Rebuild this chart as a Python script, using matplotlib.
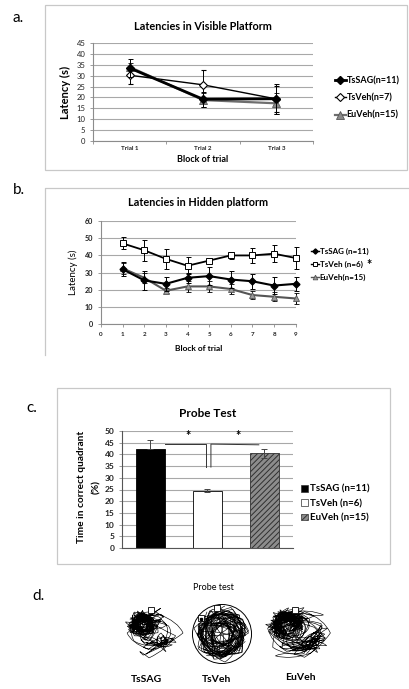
import matplotlib
matplotlib.use('Agg')
import matplotlib.pyplot as plt
from matplotlib.path import Path
from matplotlib.patches import PathPatch, Rectangle, Circle
from matplotlib.lines import Line2D
from matplotlib.transforms import Affine2D

plt.rcParams['font.family'] = ['Lato', 'DejaVu Sans']
plt.rcParams['hatch.linewidth'] = 0.7

# ---------------- data ----------------
# panel a
a_trials = ['Trial 1', 'Trial 2', 'Trial 3']
a_tssag = [33.5, 19.2, 19.4]
a_tssag_err = [4.0, 3.5, 7.0]
a_tsveh = [30.2, 25.8, 19.3]
a_tsveh_err = [3.9, 6.8, 6.0]
a_euveh = [34.0, 18.8, 17.3]
a_euveh_err = [2.0, 3.3, 4.8]
a_labels = ['TsSAG(n=11)', 'TsVeh(n=7)', 'EuVeh(n=15)']

# panel b
b_blocks = [1, 2, 3, 4, 5, 6, 7, 8, 9]
b_tssag = [32, 25.5, 23.5, 27, 28, 26, 25, 22.5, 23.5]
b_tssag_err = [4, 5.5, 4, 3, 5, 5, 4.5, 5, 4]
b_tsveh = [47, 43, 38, 34, 37, 40, 40, 41, 38.5]
b_tsveh_err = [3.5, 6, 6, 5, 1.5, 2, 4.5, 5, 6.5]
b_euveh = [32.5, 27, 19.5, 22, 22, 20.5, 17, 16, 15]
b_euveh_err = [3, 3, 1.5, 3, 3, 3, 2.5, 2.5, 3]
b_labels = ['TsSAG (n=11)', 'TsVeh (n=6)', 'EuVeh(n=15)']

# panel c
c_groups = ['TsSAG (n=11)', 'TsVeh (n=6)', 'EuVeh (n=15)']
c_values = [42.3, 24.5, 40.5]
c_err_low = [0, 0.7, 2.0]
c_err_high = [4.0, 0.7, 2.0]
c_sig_y = 44.4
c_sig_low = 34.6
c_star_y = 47.9

# panel d (swim tracks, unit-circle coordinates)
d_names = ['TsSAG', 'TsVeh', 'EuVeh']
tssag_x = [-0.3, 0.1, -0.6, -0.2, 0.3, -0.7, -0.4, 0.0, -0.8, -0.1, 0.4, -0.5, -0.9, -0.2, 0.2, 0.9, 1.05, 0.6,
           -0.3, -0.6, -0.1, 0.5, 0.8, 0.2, -0.4, -0.7, -0.3, 0.1, -0.5, -0.2, 0.3, 0.7, 0.4, -0.1, -0.6, -0.85,
           -0.4, 0.0, 0.5, 0.2, -0.3, -0.7, -0.5, -0.1, 0.3, -0.6, -0.2, 0.1, -0.75, -0.35, 0.15]
tssag_y = [0.5, 0.8, 0.3, 0.6, 0.4, 0.7, 0.1, 0.5, 0.2, 0.9, 0.6, -0.1, 0.4, 0.3, 0.7, 0.4, 0.0, -0.4,
           -0.8, -0.5, -0.9, -0.6, -0.1, 0.2, 0.6, 0.5, 0.0, 0.3, 0.8, 0.2, 0.5, 0.2, -0.3, -0.6, -0.3, 0.1,
           0.4, 0.7, 0.3, 0.0, 0.4, 0.6, 0.2, 0.6, 0.9, 0.35, 0.15, 0.55, 0.5, 0.75, 0.3]
tsveh_x = [-0.2, 0.5, 0.8, 0.3, -0.4, -0.9, -0.6, 0.1, 0.7, 0.95, 0.4, -0.3, -0.8, -0.5, 0.2, 0.6, 0.0, -0.7,
           -0.95, -0.4, 0.3, 0.85, 0.5, -0.1, -0.6, -0.2, 0.4, 0.75, 0.1, -0.5, -0.85, -0.3, 0.2, 0.6, 0.9, 0.3,
           -0.2, -0.7, -0.4, 0.0, 0.5, 0.2, -0.3, -0.6, 0.1]
tsveh_y = [0.9, 0.7, 0.2, -0.3, -0.7, -0.2, 0.5, 0.8, 0.5, -0.1, -0.6, -0.9, -0.5, 0.1, 0.4, -0.2, -0.7, -0.4,
           0.2, 0.7, 0.9, 0.3, -0.4, -0.8, -0.6, 0.0, 0.3, -0.5, -0.95, -0.7, 0.0, 0.6, 0.5, 0.8, 0.1, -0.3,
           -0.5, 0.3, 0.8, 0.4, -0.1, -0.5, -0.2, 0.6, 0.95]
euveh_x = [-0.4, 0.1, -0.7, -0.3, 0.3, -0.8, -0.5, 0.0, -0.9, -0.2, 0.5, -0.6, -1.0, -0.3, 0.2, 0.8, 1.0, 0.7,
           0.2, -0.3, -0.7, -0.2, 0.4, 0.9, 0.5, -0.4, -0.8, -0.5, 0.0, -0.6, -0.3, 0.3, 0.75, 0.4, -0.1, -0.65,
           -0.9, -0.45, 0.05, 0.55, 0.2, -0.35, -0.75, -0.5, -0.1, 0.35, -0.55, -0.2, 0.15, -0.7, -0.4]
euveh_y = [0.6, 0.85, 0.4, 0.7, 0.5, 0.6, 0.2, 0.45, 0.1, 0.9, 0.6, 0.0, 0.3, 0.35, 0.75, 0.5, 0.0, -0.5,
           -0.85, -0.6, -0.8, -0.95, -0.7, -0.2, 0.2, 0.55, 0.45, 0.05, 0.3, 0.75, 0.25, 0.55, 0.2, -0.3, -0.55, -0.3,
           0.05, 0.4, 0.65, 0.3, 0.0, 0.4, 0.6, 0.15, 0.55, 0.8, 0.5, 0.25, 0.6, 0.35, 0.7]
d_tracks_x = [tssag_x, tsveh_x, euveh_x]
d_tracks_y = [tssag_y, tsveh_y, euveh_y]
platform_x = [[-0.03], [-0.16, -0.7], [-0.1]]
platform_y = [[0.83], [0.87, 0.55], [0.8]]
# overlaid passes of each track: (rotation deg, scale, shift x, shift y)
d_passes = [
    [(0, 1.0, 0, 0), (180, 0.85, 0.05, 0.0), (25, 0.6, -0.25, 0.25), (-30, 0.55, -0.3, 0.3),
     (60, 0.5, -0.35, 0.3), (-70, 0.5, -0.3, 0.2), (120, 0.45, -0.35, 0.35), (200, 0.5, -0.3, 0.3)],
    [(0, 1.0, 0, 0), (40, 0.95, 0, 0), (-50, 0.9, 0, 0), (90, 0.85, 0, 0), (150, 0.95, 0, 0),
     (-120, 0.9, 0, 0)],
    [(0, 1.0, 0, 0), (170, 0.95, 0.0, 0.0), (-150, 0.9, 0.0, -0.05), (20, 0.65, -0.25, 0.25),
     (-25, 0.6, -0.3, 0.3), (70, 0.55, -0.35, 0.3), (-60, 0.55, -0.3, 0.2), (110, 0.5, -0.35, 0.3),
     (220, 0.5, -0.3, 0.35)],
]

# ---------------- figure ----------------
W, H = 410, 689
fig = plt.figure(figsize=(W / 100, H / 100), dpi=100)


def fx(px):
    return px / W


def fy(py):
    return 1 - py / H


def rect(l, t, r, b):
    return [fx(l), fy(b), fx(r) - fx(l), fy(t) - fy(b)]


# background overlay in pixel coordinates for frames
bg = fig.add_axes([0, 0, 1, 1], zorder=-5)
bg.set_xlim(0, W)
bg.set_ylim(H, 0)
bg.axis('off')
frame_col = '#c8c8c8'
bg.add_patch(Rectangle((45, 5), 362, 165, fill=False, ec=frame_col, lw=0.9))
bg.plot([45, 45, 410], [355, 188, 188], color=frame_col, lw=0.9)
bg.add_patch(Rectangle((57, 388), 333, 176, fill=False, ec=frame_col, lw=0.9))

grid_col = '#a8a8a8'
axis_col = '#8c8c8c'


def style_axes(ax):
    for s in ['top', 'right']:
        ax.spines[s].set_visible(False)
    ax.spines['left'].set_color(axis_col)
    ax.spines['bottom'].set_color(axis_col)
    ax.spines['left'].set_linewidth(0.8)
    ax.spines['bottom'].set_linewidth(0.8)
    ax.yaxis.grid(True, color=grid_col, lw=0.8)
    ax.set_axisbelow(True)
    ax.tick_params(colors=axis_col, length=2, width=0.6, labelcolor='#222222')


def unclip(container):
    for art in container.get_children():
        art.set_clip_on(False)


# ---------------- panel a ----------------
axa = fig.add_axes(rect(93, 43, 313, 141))
style_axes(axa)
xa = [i + 0.5 for i in range(len(a_trials))]
err_kw = dict(ecolor='black', elinewidth=0.7, capsize=1.8, capthick=0.7)
sty_a = [dict(color='black', lw=2.0, marker='D', ms=4.5, mfc='black', mec='black'),
         dict(color='black', lw=1.0, marker='D', ms=4.5, mfc='white', mec='black', mew=0.8),
         dict(color='#6e6e6e', lw=1.6, marker='^', ms=6, mfc='#8a8a8a', mec='#555555', mew=0.6)]
axa.errorbar(xa, a_tsveh, yerr=a_tsveh_err, zorder=3, **sty_a[1], **err_kw)
axa.errorbar(xa, a_euveh, yerr=a_euveh_err, zorder=3, **sty_a[2], **err_kw)
axa.errorbar(xa, a_tssag, yerr=a_tssag_err, zorder=4, **sty_a[0], **err_kw)
axa.set_xlim(0, 3)
axa.set_ylim(0, 45)
axa.set_yticks(range(0, 50, 5))
axa.set_xticks(xa)
axa.set_xticklabels(a_trials, fontsize=4.5, fontweight='bold')
axa.set_xticks([0, 1, 2, 3], minor=True)
axa.tick_params(axis='x', which='major', length=0)
axa.tick_params(axis='x', which='minor', length=2, color=axis_col)
axa.tick_params(axis='y', labelsize=5.5)
axa.set_title('Latencies in Visible Platform', fontsize=7.8, fontweight='bold', pad=9)
axa.set_xlabel('Block of trial', fontsize=6.5, fontweight='bold', labelpad=3)
axa.set_ylabel('Latency (s)', fontsize=8, fontweight='bold', labelpad=4)
ha = [Line2D([], [], **{**s, 'ms': s['ms'] * 0.85}) for s in sty_a]
axa.legend(ha, a_labels, loc='center left',
           bbox_to_anchor=(fx(335), fy(98)), bbox_transform=fig.transFigure, frameon=False,
           prop={'size': 6.5, 'weight': 'bold'}, handlelength=1.2, handletextpad=0.1,
           labelspacing=0.9, borderaxespad=0, borderpad=0)

# ---------------- panel b ----------------
axb = fig.add_axes(rect(101, 221, 295.7, 324.3))
style_axes(axb)
sty_b = [dict(color='black', lw=1.5, marker='D', ms=3.5, mfc='black', mec='black'),
         dict(color='black', lw=1.3, marker='s', ms=4, mfc='white', mec='black', mew=0.7),
         dict(color='#555555', lw=1.5, marker='^', ms=4.5, mfc='#999999', mec='#555555', mew=0.6)]
cb1 = axb.errorbar(b_blocks, b_tsveh, yerr=b_tsveh_err, zorder=3, **sty_b[1], **err_kw)
cb2 = axb.errorbar(b_blocks, b_euveh, yerr=b_euveh_err, zorder=3, **sty_b[2], **err_kw)
cb3 = axb.errorbar(b_blocks, b_tssag, yerr=b_tssag_err, zorder=4, **sty_b[0], **err_kw)
for cb in (cb1, cb2, cb3):
    unclip(cb)
axb.set_xlim(0, 9)
axb.set_ylim(0, 60)
axb.set_xticks(range(0, 10))
axb.set_yticks(range(0, 70, 10))
axb.tick_params(axis='x', labelsize=4.5)
axb.tick_params(axis='y', labelsize=5.2)
for t in axb.get_xticklabels() + axb.get_yticklabels():
    t.set_fontweight('bold')
axb.set_title('Latencies in Hidden platform', fontsize=7.8, fontweight='bold', pad=11)
axb.set_xlabel('Block of trial', fontsize=6, fontweight='bold', labelpad=6)
axb.set_ylabel('Latency (s)', fontsize=7, labelpad=5)
hb = [Line2D([], [], **{**s, 'ms': s['ms'] * 0.75, 'lw': 1.0}) for s in sty_b]
axb.legend(hb, b_labels, loc='center left',
           bbox_to_anchor=(fx(311), fy(264.5)), bbox_transform=fig.transFigure, frameon=False,
           prop={'size': 5.8, 'weight': 'bold'}, handlelength=1.0, handletextpad=0.1,
           labelspacing=0.7, borderaxespad=0, borderpad=0)
fig.text(fx(366), fy(265), '*', fontsize=9, fontweight='bold', ha='left', va='center')

# ---------------- panel c ----------------
axc = fig.add_axes(rect(122, 431, 293, 548))
style_axes(axc)
xc = [i + 0.5 for i in range(len(c_groups))]
c_faces = ['black', 'white', '#8c8c8c']
c_hatch = [None, None, '//////']
bars = axc.bar(xc, c_values, width=0.5, color=c_faces, edgecolor='black', lw=0.6, zorder=2)
for b_, h in zip(bars, c_hatch):
    if h:
        b_.set_hatch(h)
        b_.set_edgecolor('#303030')
axc.errorbar(xc, c_values, yerr=[c_err_low, c_err_high], fmt='none', ecolor='#444444',
             elinewidth=0.7, capsize=2, capthick=0.7, zorder=3)
axc.set_xlim(0, 3)
axc.set_ylim(0, 50)
axc.set_yticks(range(0, 55, 5))
axc.set_xticks([])
axc.spines['bottom'].set_color('#555555')
axc.spines['left'].set_color('#555555')
axc.tick_params(axis='y', labelsize=6)
for t in axc.get_yticklabels():
    t.set_fontweight('bold')
axc.set_title('Probe Test', fontsize=8.5, fontweight='bold', pad=10)
fig.text(fx(82), fy(487), 'Time in correct quadrant', rotation=90, fontsize=7.3,
         fontweight='bold', ha='center', va='center')
fig.text(fx(97), fy(487), '(%)', rotation=90, fontsize=7.3,
         fontweight='bold', ha='center', va='center')
# significance brackets
x0 = xc[0] + 0.25
x1 = xc[1] - 0.02
x2 = xc[1] + 0.06
x3 = xc[2] - 0.1
axc.plot([x0, x1, x1], [c_sig_y, c_sig_y, c_sig_low], color='#333333', lw=0.7, zorder=4)
axc.plot([x2, x2, x3], [c_sig_low, c_sig_y, c_sig_y - 0.3], color='#333333', lw=0.7, zorder=4)
axc.text((x0 + x1) / 2 + 0.05, c_star_y, '*', fontsize=9, fontweight='bold', ha='center', va='center')
axc.text((x2 + x3) / 2 + 0.05, c_star_y, '*', fontsize=9, fontweight='bold', ha='center', va='center')
c_handles = [Rectangle((0, 0), 1, 1, fc=c_faces[i], ec='#333333', lw=0.5, hatch=c_hatch[i])
             for i in range(3)]
axc.legend(c_handles, c_groups, loc='center left', bbox_to_anchor=(fx(301), fy(503.5)),
           bbox_transform=fig.transFigure, frameon=False, prop={'size': 7, 'weight': 'bold'},
           handlelength=0.7, handleheight=0.7, handletextpad=0.25, labelspacing=0.55,
           borderaxespad=0, borderpad=0)

# ---------------- panel d ----------------
fig.text(fx(213), fy(588), 'Probe test', fontsize=6.5, ha='center', va='center')
centers = [(152, 633, 31, 29), (222, 634, 31, 31), (298, 633, 34, 30)]
lab_pos = [(147, 680), (217, 680), (300, 677)]
for k in range(3):
    cx, cy, rx, ry = centers[k]
    axd = fig.add_axes(rect(cx - rx, cy - ry, cx + rx, cy + ry))
    axd.set_xlim(-1.05, 1.05)
    axd.set_ylim(-1.05, 1.05)
    axd.axis('off')
    xs, ys = d_tracks_x[k], d_tracks_y[k]
    n = len(xs)
    if (n - 1) % 2:
        n -= 1
    track = Path(list(zip(xs[:n], ys[:n])), [Path.MOVETO] + [Path.CURVE3] * (n - 1))
    for ang, sc, dx, dy in d_passes[k]:
        tr = Affine2D().rotate_deg(ang).scale(sc).translate(dx, dy)
        axd.add_patch(PathPatch(tr.transform_path(track), fill=False, ec='black', lw=0.45,
                                clip_on=False))
    if k == 1:
        axd.add_patch(Circle((0, 0), 1.0, fill=False, ec='black', lw=0.7))
    axd.plot(platform_x[k], platform_y[k], ls='none', marker='s', ms=4, mfc='white',
             mec='black', mew=0.6, zorder=5)
    if k == 1:
        axd.plot([platform_x[k][1]], [platform_y[k][1] - 0.05], ls='none', marker='s', ms=1.5,
                 color='black', zorder=6)
    fig.text(fx(lab_pos[k][0]), fy(lab_pos[k][1]), d_names[k], fontsize=7.5, fontweight='bold',
             ha='center', va='center')

# panel letters
for lab, px, py in [('a.', 13, 18), ('b.', 13, 190), ('c.', 26, 408), ('d.', 32, 596)]:
    fig.text(fx(px), fy(py), lab, fontsize=11, ha='left', va='center')

fig.savefig('out.png', dpi=100)
